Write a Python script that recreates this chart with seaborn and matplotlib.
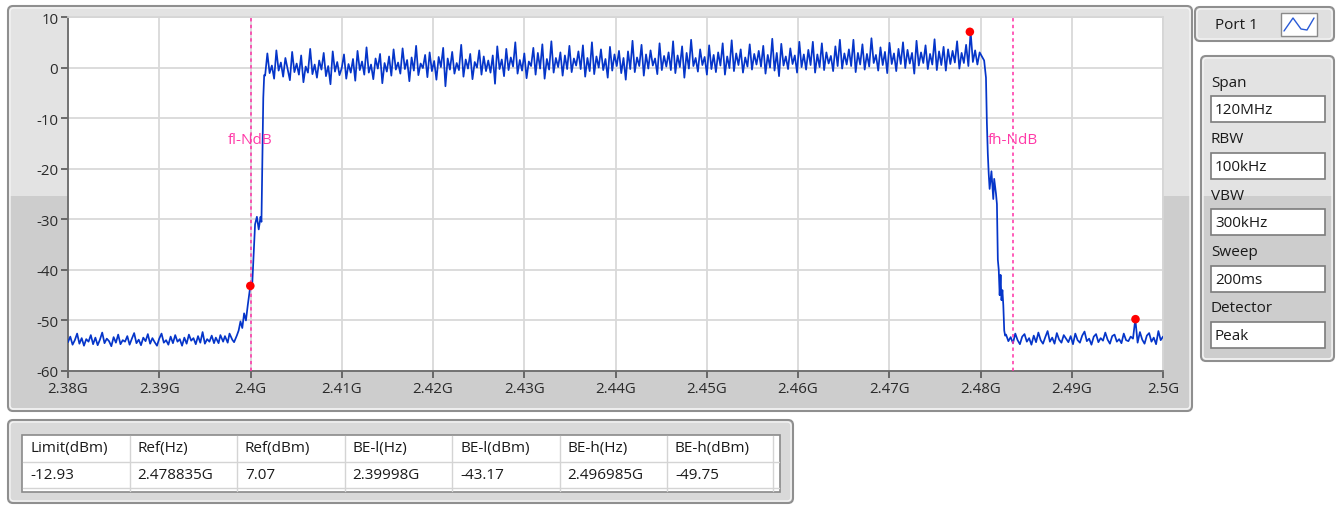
import numpy as np
import pandas as pd
import matplotlib
matplotlib.use("Agg")
import matplotlib.pyplot as plt
from matplotlib.patches import FancyBboxPatch, Rectangle
import seaborn as sns

# ---- trace data (GHz / dBm), read off the screen capture ----
# noise floor below the band, 0.25 MHz spacing
floor_lo_span = (2.3800, 2.3960)
floor_lo_db = [
    -54.3, -53.2, -54.8, -53.9, -52.6, -54.6, -53.5, -55.0, -53.7, -54.2,
    -52.9, -54.7, -53.4, -54.9, -53.8, -52.4, -54.5, -53.6, -54.1, -55.1,
    -53.3, -54.4, -52.8, -54.7, -53.9, -54.2, -53.1, -54.8, -53.6, -52.5,
    -54.5, -53.8, -54.9, -53.4, -54.1, -52.7, -54.6, -53.5, -54.3, -55.0,
    -53.6, -52.6, -54.4, -53.9, -54.8, -53.2, -54.5, -52.9, -54.2, -53.7,
    -55.0, -53.4, -54.6, -52.8, -54.0, -53.5, -54.7, -53.1, -54.4, -52.3,
    -54.6, -53.7, -54.2, -53.0, -54.5,
]

# lower skirt
edge_lo_f = [2.3962, 2.3965, 2.3967, 2.3970, 2.3972, 2.3975, 2.3977, 2.3980, 2.3982,
             2.3985, 2.3987, 2.3989, 2.3991, 2.3993, 2.3995, 2.3997, 2.39998, 2.4002,
             2.4004, 2.4005, 2.4007, 2.4009, 2.4011, 2.4012, 2.4013, 2.4014, 2.4015]
edge_lo_db = [-53.4, -54.5, -52.9, -54.2, -53.1, -54.4, -52.6, -53.8, -54.3,
              -53.0, -52.0, -50.2, -51.5, -48.6, -50.0, -47.0, -43.17, -42.5,
              -35.0, -31.0, -29.5, -32.0, -29.5, -30.5, -18.0, -6.0, -1.5]

# in-band, 20 points per 5 MHz row
band_span = (2.4016, 2.4804)
band_db = [
    -1.6, 2.8, -1.1, 0.4, -2.2, 3.4, -0.6, 1.0, -1.8, 1.9, -0.3, -2.5, 3.1, -0.9, 0.8, -1.4, 2.4, -2.9, 0.2, -1.0,
    3.7, -1.3, 0.6, -2.0, 1.4, -0.4, 2.9, -1.7, 0.3, -3.3, 3.2, -0.8, 1.1, -1.5, -0.1, 2.6, -2.2, 0.7, -1.0, 1.7,
    -2.6, 3.3, -0.5, 1.2, -1.4, 4.0, -1.0, 0.6, -2.3, 1.8, -0.2, 2.7, -3.1, 0.9, -0.8, 2.2, -1.6, 3.6, -0.4, 1.0,
    -1.2, 3.8, -0.3, 1.5, -2.7, 2.0, -0.6, 4.3, -1.5, 0.8, -0.1, 2.5, -1.9, 3.0, -0.7, 1.3, -2.4, 2.1, 0.1, 3.9,
    -3.7, 1.8, -0.4, 3.1, -1.2, 0.9, -0.5, 4.5, -1.8, 1.6, -0.2, 2.7, -2.3, 1.1, 0.0, 3.4, -1.4, 2.2, -0.7, 1.4,
    -1.0, 2.4, -3.2, 4.2, -0.3, 1.6, -1.7, 3.7, -0.5, 2.0, 0.2, 5.0, -1.2, 1.5, -0.6, 2.8, -2.1, 1.2, 0.3, 3.9,
    -1.4, 2.9, -0.2, 4.6, -2.2, 1.7, -0.4, 5.2, -1.0, 1.9, 0.1, 3.0, -1.6, 2.4, -0.3, 4.3, -0.9, 1.8, 0.4, 3.2,
    -0.3, 4.4, -1.8, 1.9, -0.7, 5.0, -1.3, 2.2, 0.0, 3.6, -0.5, 1.7, -2.0, 4.1, -0.6, 2.6, 0.3, 3.3, -1.1, 1.9,
    -2.4, 3.2, -0.3, 5.3, -0.9, 2.0, 0.3, 4.5, -1.6, 2.6, -0.2, 3.4, 0.4, 1.8, -1.3, 4.8, -0.5, 2.3, 0.2, 3.0,
    -0.5, 5.2, -1.1, 2.4, 0.1, 4.2, -2.0, 2.9, -0.2, 5.5, 0.3, 1.9, -0.8, 3.6, 0.5, 2.1, -1.4, 4.4, -0.3, 2.5,
    -0.9, 3.0, 0.4, 4.8, -1.4, 2.2, -0.1, 5.4, -0.7, 2.8, 0.5, 3.6, -1.0, 2.0, 0.2, 4.6, -0.4, 2.7, 0.6, 3.3,
    0.2, 4.3, -1.2, 2.5, 0.0, 5.7, -0.6, 2.9, -1.7, 4.7, 0.4, 2.2, -0.3, 3.8, 0.7, 2.4, -1.0, 5.1, 0.1, 2.6,
    -0.4, 3.5, 0.5, 5.1, -1.0, 2.6, 0.1, 4.8, -0.5, 3.0, 0.8, 2.3, -0.7, 4.2, 0.3, 5.5, -0.2, 2.8, 0.6, 3.6,
    0.3, 5.5, -0.9, 2.9, 0.6, 4.6, -0.4, 2.7, 0.2, 5.8, 0.9, 2.5, -0.6, 4.0, 0.5, 3.1, -1.1, 4.9, 0.7, 2.8,
    -0.7, 3.7, 0.7, 5.0, -0.1, 3.5, 0.8, 2.9, -1.2, 5.3, 0.4, 3.0, 0.9, 4.4, -0.3, 2.7, 0.6, 5.6, -0.5, 3.2,
    0.5, 4.1, -0.6, 3.6, 0.7, 3.3, 1.0, 5.2, -0.2, 2.9, 0.9, 4.5, 0.3, 7.07, 1.1, 3.4, 0.6, 3.0, 2.2, 1.4,
]

# upper skirt
edge_hi_f = [2.4806, 2.4807, 2.4808, 2.4809, 2.4810, 2.4812, 2.4814, 2.4815, 2.4817,
             2.4818, 2.4819, 2.4820, 2.4821, 2.4822, 2.4823, 2.4824, 2.4825, 2.4826, 2.4827]
edge_hi_db = [-2.0, -11.0, -17.0, -21.0, -24.0, -20.5, -26.0, -22.0, -25.0,
              -27.0, -38.0, -40.0, -45.0, -41.0, -46.0, -44.0, -47.0, -52.0, -53.0]

# noise floor above the band
floor_hi_span = (2.4828, 2.5000)
floor_hi_db = [
    -52.8, -54.1, -53.3, -54.5, -52.6, -53.9, -54.7, -53.2, -52.7, -54.2,
    -53.5, -54.8, -53.0, -54.3, -52.4, -53.9, -54.6, -53.3, -52.1, -54.2,
    -53.4, -54.6, -52.5, -53.8, -54.4, -52.9, -53.6, -54.3, -53.1, -54.7,
    -52.6, -53.9, -54.4, -53.0, -52.2, -54.1, -53.6, -54.8, -53.2, -52.7,
    -54.3, -53.5, -54.0, -52.4, -53.8, -54.6, -53.1, -52.8, -54.2, -53.7,
    -54.5, -52.6, -53.9, -54.1, -53.2, -53.6, -49.75, -54.4, -52.3, -53.8,
    -54.6, -53.0, -52.5, -54.2, -53.4, -54.7, -52.1, -53.9, -53.2,
]

# markers (Ref, BE-l, BE-h) and N dB lines
marker_f = [2.478835, 2.39998, 2.496985]
marker_db = [7.07, -43.17, -49.75]
ndb_f = [2.4000, 2.48356]
ndb_labels = ["fl-NdB", "fh-NdB"]

xtick_vals = [2.38, 2.39, 2.40, 2.41, 2.42, 2.43, 2.44, 2.45, 2.46, 2.47, 2.48, 2.49, 2.50]
xtick_labels = ["2.38G", "2.39G", "2.4G", "2.41G", "2.42G", "2.43G", "2.44G",
                "2.45G", "2.46G", "2.47G", "2.48G", "2.49G", "2.5G"]
ytick_vals = [-60, -50, -40, -30, -20, -10, 0, 10]

setting_names = ["Span", "RBW", "VBW", "Sweep", "Detector"]
setting_vals = ["120MHz", "100kHz", "300kHz", "200ms", "Peak"]

table_cols = ["Limit(dBm)", "Ref(Hz)", "Ref(dBm)", "BE-l(Hz)", "BE-l(dBm)", "BE-h(Hz)", "BE-h(dBm)"]
table_vals = ["-12.93", "2.478835G", "7.07", "2.39998G", "-43.17", "2.496985G", "-49.75"]

# assemble trace
freq = np.concatenate([
    np.linspace(*floor_lo_span, len(floor_lo_db)), edge_lo_f,
    np.linspace(*band_span, len(band_db)), edge_hi_f,
    np.linspace(*floor_hi_span, len(floor_hi_db)),
])
level = np.concatenate([floor_lo_db, edge_lo_db, band_db, edge_hi_db, floor_hi_db])
trace = pd.DataFrame({"freq": freq, "level": level})
marks = pd.DataFrame({"freq": marker_f, "level": marker_db})

sns.set_theme(style="white")
plt.rcParams["font.family"] = ["Open Sans", "DejaVu Sans"]
plt.rcParams["axes.unicode_minus"] = False

W, H = 1338, 506
fig = plt.figure(figsize=(W / 100, H / 100), dpi=100)
fig.patch.set_facecolor("white")

# pixel-space layer for the instrument panels
bg = fig.add_axes([0, 0, 1, 1])
bg.set_xlim(0, W)
bg.set_ylim(H, 0)
bg.axis("off")


def px_rect(x0, y0, x1, y1):
    return [x0 / W, 1 - y1 / H, (x1 - x0) / W, (y1 - y0) / H]


def panel(x0, y0, x1, y1, split=None, top="#e3e3e3", low="#cdcdcd"):
    bg.add_patch(FancyBboxPatch((x0, y0), x1 - x0, y1 - y0,
                                boxstyle="round,pad=0,rounding_size=5",
                                fc=top, ec="#8f8f8f", lw=1.5, zorder=1))
    if split is not None:
        bg.add_patch(Rectangle((x0 + 2, split), x1 - x0 - 4, y1 - split - 3,
                               fc=low, ec="none", zorder=1.2))
    bg.add_patch(FancyBboxPatch((x0 + 2, y0 + 2), x1 - x0 - 4, y1 - y0 - 4,
                                boxstyle="round,pad=0,rounding_size=4",
                                fc="none", ec="#f4f4f4", lw=1.0, zorder=1.3))


# main graph frame
panel(8, 7, 1192, 412, split=197)

# Port 1 selector
panel(1195, 8, 1334, 42, top="#e0e0e0")
bg.text(1236, 25, "Port 1", ha="center", va="center", fontsize=11, color="#1a1a1a", zorder=3)
bg.add_patch(Rectangle((1281, 14), 36, 23, fc="white", ec="#8a8a8a", lw=1, zorder=3))
bg.plot([1284, 1293, 1301, 1307, 1314], [32, 19, 30, 31, 19], color="#2a5bd7", lw=1, zorder=4)

# settings panel
panel(1201, 57, 1334, 362, split=197)
for i, (name, val) in enumerate(zip(setting_names, setting_vals)):
    y_lab = 83 + i * 56.5
    bg.text(1211, y_lab, name, ha="left", va="center", fontsize=11, color="#1a1a1a", zorder=3)
    bg.add_patch(Rectangle((1211, y_lab + 14), 114, 26, fc="white", ec="#7c7c7c", lw=1.2, zorder=3))
    bg.text(1215, y_lab + 27.5, val, ha="left", va="center", fontsize=11, color="#1a1a1a", zorder=4)

# result table
panel(8, 421, 793, 504, top="#d9d9d9")
bg.add_patch(Rectangle((22, 436), 758, 57, fc="white", ec="#8a8a8a", lw=1.2, zorder=3))
col_x = [22 + 107.5 * i for i in range(len(table_cols))]
for y in (463, 489):
    bg.plot([23, 779], [y, y], color="#d4d4d4", lw=1, zorder=4)
for x in col_x[1:] + [773]:
    bg.plot([x, x], [437, 492], color="#d4d4d4", lw=1, zorder=4)
for x, head, val in zip(col_x, table_cols, table_vals):
    bg.text(x + 8, 449, head, ha="left", va="center", fontsize=11, color="#1a1a1a", zorder=5)
    bg.text(x + 8, 476, val, ha="left", va="center", fontsize=11, color="#1a1a1a", zorder=5)

# spectrum axes
ax = fig.add_axes(px_rect(68, 18, 1163, 372))
ax.set_facecolor("white")
sns.lineplot(data=trace, x="freq", y="level", ax=ax, color="#0535c9", lw=1.25, zorder=3)
sns.scatterplot(data=marks, x="freq", y="level", ax=ax, color="#ff0000", s=38,
                edgecolor="none", zorder=5)
for f, lab in zip(ndb_f, ndb_labels):
    ax.axvline(f, color="#ff2fa6", lw=1.1, ls=(0, (2.2, 2.2)), zorder=4)
    ax.text(f, -14.3, lab, ha="center", va="center", fontsize=11, color="#ff3aa8", zorder=4)

ax.set_xlim(2.38, 2.50)
ax.set_ylim(-60, 10)
ax.set_xticks(xtick_vals)
ax.set_xticklabels(xtick_labels)
ax.set_yticks(ytick_vals)
ax.set(xlabel=None, ylabel=None)
ax.grid(True, color="#d9d9d9", lw=1.3)
ax.set_axisbelow(True)
for side in ("left", "bottom"):
    ax.spines[side].set_color("#6a6a6a")
    ax.spines[side].set_linewidth(1.3)
for side in ("top", "right"):
    ax.spines[side].set_color("#d6d6d6")
ax.tick_params(axis="both", direction="out", length=5, width=1.2, color="#555555",
               labelsize=10.8, labelcolor="#2a2a2a", pad=2, bottom=True, left=True)

fig.savefig("out.png", dpi=100, facecolor="white")
